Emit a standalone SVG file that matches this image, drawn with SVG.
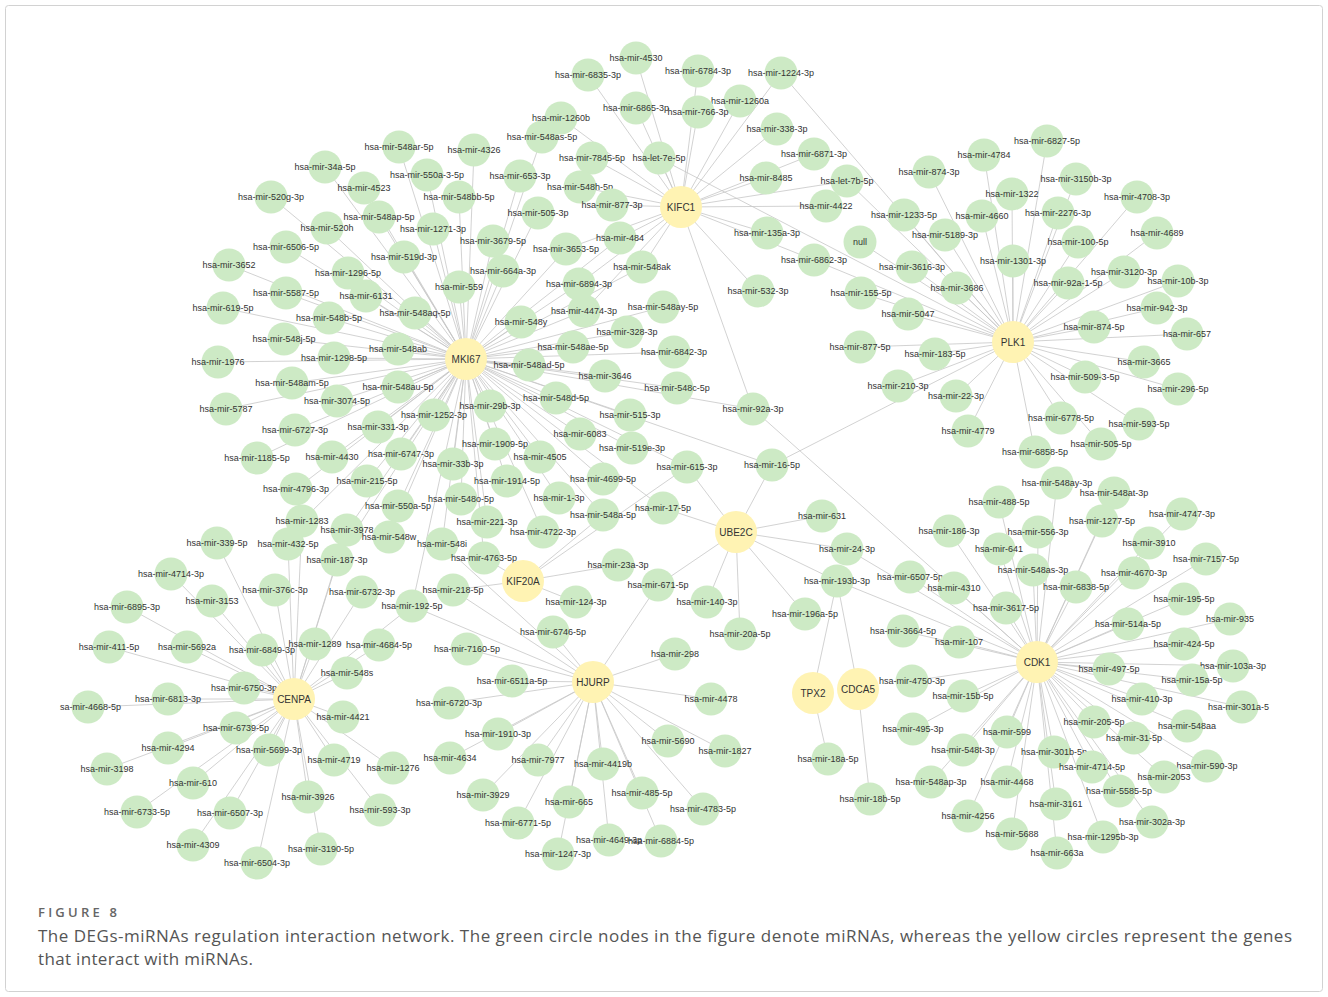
<svg xmlns="http://www.w3.org/2000/svg" width="1328" height="997" viewBox="0 0 1328 997">
<style>
#edges path{stroke:#c6c6c6;stroke-width:0.8;fill:none}
.m circle{fill:#cdeac5}
.g circle{fill:#fff3b3}
text{font-family:"Liberation Sans",Arial,sans-serif;font-size:9px;fill:#333;text-anchor:middle}
.g text{font-size:10px}
text.cap{font-family:"Open Sans","Liberation Sans",sans-serif;text-anchor:start;fill:#555;font-size:17px}
text.fig{font-size:13px;font-weight:600;fill:#666}
</style>
<rect x="5.5" y="5.5" width="1317" height="986" rx="3" fill="#fff" stroke="#d2d2d2"/>
<g id="edges">
<path d="M466 359L399 147M466 359L474 150M466 359L325 167M466 359L427 175M466 359L364 188M466 359L459 197M466 359L271 197M466 359L379 217M466 359L327 228M466 359L433 229M466 359L286 247M466 359L404 257M466 359L229 265M466 359L348 273M466 359L286 293M466 359L366 296M466 359L223 308M466 359L329 318M466 359L415 313M466 359L284 339M466 359L218 362M466 359L334 358M466 359L398 349M466 359L292 383M466 359L398 387M466 359L337 401M466 359L226 409M466 359L434 415M466 359L295 430M466 359L378 427M466 359L257 458M466 359L332 457M466 359L401 454M466 359L296 489M466 359L367 481M466 359L398 506M466 359L302 521M466 359L347 530M466 359L389 537M466 359L442 544M466 359L453 464M466 359L461 499M466 359L507 481M466 359L495 444M466 359L490 406M466 359L487 522M466 359L484 558M466 359L559 498M466 359L543 532M466 359L540 457M466 359L603 479M466 359L603 515M466 359L580 434M466 359L632 448M466 359L630 415M466 359L556 398M466 359L677 388M466 359L605 376M466 359L529 365M466 359L674 352M466 359L573 347M466 359L627 332M466 359L521 322M466 359L584 311M466 359L663 307M466 359L579 284M466 359L642 267M466 359L459 287M466 359L503 271M466 359L566 249M466 359L620 238M466 359L493 241M466 359L538 213M466 359L520 176M466 359L542 137M466 359L753 409M466 359L687 467M466 359L772 465M466 359L663 508M466 359L337 560M466 359L412 606"/>
<path d="M681 207L561 118M681 207L592 158M681 207L580 187M681 207L612 205M681 207L636 58M681 207L588 75M681 207L698 71M681 207L781 73M681 207L740 101M681 207L636 108M681 207L698 112M681 207L777 129M681 207L659 158M681 207L814 154M681 207L766 178M681 207L847 181M681 207L826 206M681 207L767 233M681 207L814 260M681 207L758 291M681 207L753 409M681 207L620 238M681 207L566 249M681 207L642 267M681 207L579 284M681 207L584 311"/>
<path d="M1013 342L1047 141M1013 342L984 155M1013 342L929 172M1013 342L1076 179M1013 342L1012 194M1013 342L1137 197M1013 342L904 215M1013 342L982 216M1013 342L1058 213M1013 342L945 235M1013 342L1157 233M1013 342L1078 242M1013 342L860 242M1013 342L1013 261M1013 342L912 267M1013 342L1124 272M1013 342L1068 283M1013 342L1178 281M1013 342L957 288M1013 342L861 293M1013 342L908 314M1013 342L1157 308M1013 342L1094 327M1013 342L1187 334M1013 342L860 347M1013 342L935 354M1013 342L1144 362M1013 342L1085 377M1013 342L898 386M1013 342L1178 389M1013 342L956 396M1013 342L1061 418M1013 342L1139 424M1013 342L968 431M1013 342L1101 444M1013 342L1035 452M1013 342L781 73M1013 342L659 158M1013 342L847 181M1013 342L814 260M1013 342L772 465"/>
<path d="M1037 662L1057 483M1037 662L1114 493M1037 662L999 502M1037 662L1182 514M1037 662L1102 521M1037 662L949 531M1037 662L1038 532M1037 662L1149 543M1037 662L999 549M1037 662L1206 559M1037 662L1033 570M1037 662L1134 573M1037 662L910 577M1037 662L1076 587M1037 662L954 588M1037 662L1184 599M1037 662L1006 608M1037 662L1230 619M1037 662L1128 624M1037 662L903 631M1037 662L1184 644M1037 662L959 642M1037 662L1233 666M1037 662L1109 669M1037 662L1192 680M1037 662L912 681M1037 662L963 696M1037 662L1142 699M1037 662L1242 707M1037 662L1187 726M1037 662L1094 722M1037 662L913 729M1037 662L1007 732M1037 662L1134 738M1037 662L963 750M1037 662L1054 752M1037 662L1092 767M1037 662L1207 766M1037 662L1164 777M1037 662L931 782M1037 662L1007 782M1037 662L1119 791M1037 662L1056 804M1037 662L968 816M1037 662L1152 822M1037 662L1012 834M1037 662L1103 837M1037 662L1057 853M1037 662L753 409M1037 662L847 549M1037 662L837 581"/>
<path d="M736 532L687 467M736 532L772 465M736 532L663 508M736 532L822 516M736 532L847 549M736 532L837 581M736 532L805 614M736 532L740 634M736 532L707 602M736 532L658 585"/>
<path d="M523 581L687 467M523 581L618 565M523 581L576 602M523 581L484 558M523 581L453 590M523 581L603 515"/>
<path d="M813 693L837 581M813 693L828 759M858 689L837 581M858 689L870 799"/>
<path d="M593 682L658 585M593 682L675 654M593 682L711 699M593 682L512 681M593 682L449 703M593 682L498 734M593 682L450 758M593 682L538 760M593 682L483 795M593 682L518 823M593 682L569 802M593 682L558 854M593 682L603 764M593 682L609 840M593 682L642 793M593 682L661 841M593 682L668 741M593 682L725 751M593 682L703 809M593 682L553 632M593 682L467 649M593 682L453 590M593 682L412 606M593 682L442 544"/>
<path d="M294 699L217 543M294 699L288 544M294 699L337 560M294 699L171 574M294 699L275 590M294 699L362 592M294 699L212 601M294 699L127 607M294 699L412 606M294 699L109 647M294 699L187 647M294 699L262 650M294 699L315 644M294 699L379 645M294 699L347 673M294 699L244 688M294 699L168 699M294 699L88 707M294 699L343 717M294 699L236 728M294 699L168 748M294 699L269 750M294 699L334 760M294 699L107 769M294 699L393 768M294 699L193 783M294 699L308 797M294 699L137 812M294 699L380 810M294 699L230 813M294 699L193 845M294 699L321 849M294 699L257 863M294 699L302 521M294 699L347 530"/>
</g>
<g id="mirnas">
<g id="mir-548ar-5p" class="m"><circle cx="399" cy="147" r="16.5"/><text x="399" y="150">hsa-mir-548ar-5p</text></g>
<g id="mir-4326" class="m"><circle cx="474" cy="150" r="16.5"/><text x="474" y="153">hsa-mir-4326</text></g>
<g id="mir-34a-5p" class="m"><circle cx="325" cy="167" r="16.5"/><text x="325" y="170">hsa-mir-34a-5p</text></g>
<g id="mir-550a-3-5p" class="m"><circle cx="427" cy="175" r="16.5"/><text x="427" y="178">hsa-mir-550a-3-5p</text></g>
<g id="mir-4523" class="m"><circle cx="364" cy="188" r="16.5"/><text x="364" y="191">hsa-mir-4523</text></g>
<g id="mir-548bb-5p" class="m"><circle cx="459" cy="197" r="16.5"/><text x="459" y="200">hsa-mir-548bb-5p</text></g>
<g id="mir-520g-3p" class="m"><circle cx="271" cy="197" r="16.5"/><text x="271" y="200">hsa-mir-520g-3p</text></g>
<g id="mir-548ap-5p" class="m"><circle cx="379" cy="217" r="16.5"/><text x="379" y="220">hsa-mir-548ap-5p</text></g>
<g id="mir-520h" class="m"><circle cx="327" cy="228" r="16.5"/><text x="327" y="231">hsa-mir-520h</text></g>
<g id="mir-1271-3p" class="m"><circle cx="433" cy="229" r="16.5"/><text x="433" y="232">hsa-mir-1271-3p</text></g>
<g id="mir-6506-5p" class="m"><circle cx="286" cy="247" r="16.5"/><text x="286" y="250">hsa-mir-6506-5p</text></g>
<g id="mir-519d-3p" class="m"><circle cx="404" cy="257" r="16.5"/><text x="404" y="260">hsa-mir-519d-3p</text></g>
<g id="mir-3652" class="m"><circle cx="229" cy="265" r="16.5"/><text x="229" y="268">hsa-mir-3652</text></g>
<g id="mir-1296-5p" class="m"><circle cx="348" cy="273" r="16.5"/><text x="348" y="276">hsa-mir-1296-5p</text></g>
<g id="mir-5587-5p" class="m"><circle cx="286" cy="293" r="16.5"/><text x="286" y="296">hsa-mir-5587-5p</text></g>
<g id="mir-6131" class="m"><circle cx="366" cy="296" r="16.5"/><text x="366" y="299">hsa-mir-6131</text></g>
<g id="mir-619-5p" class="m"><circle cx="223" cy="308" r="16.5"/><text x="223" y="311">hsa-mir-619-5p</text></g>
<g id="mir-548b-5p" class="m"><circle cx="329" cy="318" r="16.5"/><text x="329" y="321">hsa-mir-548b-5p</text></g>
<g id="mir-548aq-5p" class="m"><circle cx="415" cy="313" r="16.5"/><text x="415" y="316">hsa-mir-548aq-5p</text></g>
<g id="mir-548j-5p" class="m"><circle cx="284" cy="339" r="16.5"/><text x="284" y="342">hsa-mir-548j-5p</text></g>
<g id="mir-1976" class="m"><circle cx="218" cy="362" r="16.5"/><text x="218" y="365">hsa-mir-1976</text></g>
<g id="mir-1298-5p" class="m"><circle cx="334" cy="358" r="16.5"/><text x="334" y="361">hsa-mir-1298-5p</text></g>
<g id="mir-548ab" class="m"><circle cx="398" cy="349" r="16.5"/><text x="398" y="352">hsa-mir-548ab</text></g>
<g id="mir-548am-5p" class="m"><circle cx="292" cy="383" r="16.5"/><text x="292" y="386">hsa-mir-548am-5p</text></g>
<g id="mir-548au-5p" class="m"><circle cx="398" cy="387" r="16.5"/><text x="398" y="390">hsa-mir-548au-5p</text></g>
<g id="mir-3074-5p" class="m"><circle cx="337" cy="401" r="16.5"/><text x="337" y="404">hsa-mir-3074-5p</text></g>
<g id="mir-5787" class="m"><circle cx="226" cy="409" r="16.5"/><text x="226" y="412">hsa-mir-5787</text></g>
<g id="mir-1252-3p" class="m"><circle cx="434" cy="415" r="16.5"/><text x="434" y="418">hsa-mir-1252-3p</text></g>
<g id="mir-6727-3p" class="m"><circle cx="295" cy="430" r="16.5"/><text x="295" y="433">hsa-mir-6727-3p</text></g>
<g id="mir-331-3p" class="m"><circle cx="378" cy="427" r="16.5"/><text x="378" y="430">hsa-mir-331-3p</text></g>
<g id="mir-1185-5p" class="m"><circle cx="257" cy="458" r="16.5"/><text x="257" y="461">hsa-mir-1185-5p</text></g>
<g id="mir-4430" class="m"><circle cx="332" cy="457" r="16.5"/><text x="332" y="460">hsa-mir-4430</text></g>
<g id="mir-6747-3p" class="m"><circle cx="401" cy="454" r="16.5"/><text x="401" y="457">hsa-mir-6747-3p</text></g>
<g id="mir-4796-3p" class="m"><circle cx="296" cy="489" r="16.5"/><text x="296" y="492">hsa-mir-4796-3p</text></g>
<g id="mir-215-5p" class="m"><circle cx="367" cy="481" r="16.5"/><text x="367" y="484">hsa-mir-215-5p</text></g>
<g id="mir-550a-5p" class="m"><circle cx="398" cy="506" r="16.5"/><text x="398" y="509">hsa-mir-550a-5p</text></g>
<g id="mir-1283" class="m"><circle cx="302" cy="521" r="16.5"/><text x="302" y="524">hsa-mir-1283</text></g>
<g id="mir-3978" class="m"><circle cx="347" cy="530" r="16.5"/><text x="347" y="533">hsa-mir-3978</text></g>
<g id="mir-548w" class="m"><circle cx="389" cy="537" r="16.5"/><text x="389" y="540">hsa-mir-548w</text></g>
<g id="mir-548i" class="m"><circle cx="442" cy="544" r="16.5"/><text x="442" y="547">hsa-mir-548i</text></g>
<g id="mir-33b-3p" class="m"><circle cx="453" cy="464" r="16.5"/><text x="453" y="467">hsa-mir-33b-3p</text></g>
<g id="mir-548o-5p" class="m"><circle cx="461" cy="499" r="16.5"/><text x="461" y="502">hsa-mir-548o-5p</text></g>
<g id="mir-1914-5p" class="m"><circle cx="507" cy="481" r="16.5"/><text x="507" y="484">hsa-mir-1914-5p</text></g>
<g id="mir-1909-5p" class="m"><circle cx="495" cy="444" r="16.5"/><text x="495" y="447">hsa-mir-1909-5p</text></g>
<g id="mir-29b-3p" class="m"><circle cx="490" cy="406" r="16.5"/><text x="490" y="409">hsa-mir-29b-3p</text></g>
<g id="mir-221-3p" class="m"><circle cx="487" cy="522" r="16.5"/><text x="487" y="525">hsa-mir-221-3p</text></g>
<g id="mir-4763-5p" class="m"><circle cx="484" cy="558" r="16.5"/><text x="484" y="561">hsa-mir-4763-5p</text></g>
<g id="mir-1-3p" class="m"><circle cx="559" cy="498" r="16.5"/><text x="559" y="501">hsa-mir-1-3p</text></g>
<g id="mir-4722-3p" class="m"><circle cx="543" cy="532" r="16.5"/><text x="543" y="535">hsa-mir-4722-3p</text></g>
<g id="mir-4505" class="m"><circle cx="540" cy="457" r="16.5"/><text x="540" y="460">hsa-mir-4505</text></g>
<g id="mir-4699-5p" class="m"><circle cx="603" cy="479" r="16.5"/><text x="603" y="482">hsa-mir-4699-5p</text></g>
<g id="mir-548a-5p" class="m"><circle cx="603" cy="515" r="16.5"/><text x="603" y="518">hsa-mir-548a-5p</text></g>
<g id="mir-6083" class="m"><circle cx="580" cy="434" r="16.5"/><text x="580" y="437">hsa-mir-6083</text></g>
<g id="mir-519e-3p" class="m"><circle cx="632" cy="448" r="16.5"/><text x="632" y="451">hsa-mir-519e-3p</text></g>
<g id="mir-515-3p" class="m"><circle cx="630" cy="415" r="16.5"/><text x="630" y="418">hsa-mir-515-3p</text></g>
<g id="mir-548d-5p" class="m"><circle cx="556" cy="398" r="16.5"/><text x="556" y="401">hsa-mir-548d-5p</text></g>
<g id="mir-548c-5p" class="m"><circle cx="677" cy="388" r="16.5"/><text x="677" y="391">hsa-mir-548c-5p</text></g>
<g id="mir-3646" class="m"><circle cx="605" cy="376" r="16.5"/><text x="605" y="379">hsa-mir-3646</text></g>
<g id="mir-548ad-5p" class="m"><circle cx="529" cy="365" r="16.5"/><text x="529" y="368">hsa-mir-548ad-5p</text></g>
<g id="mir-6842-3p" class="m"><circle cx="674" cy="352" r="16.5"/><text x="674" y="355">hsa-mir-6842-3p</text></g>
<g id="mir-548ae-5p" class="m"><circle cx="573" cy="347" r="16.5"/><text x="573" y="350">hsa-mir-548ae-5p</text></g>
<g id="mir-328-3p" class="m"><circle cx="627" cy="332" r="16.5"/><text x="627" y="335">hsa-mir-328-3p</text></g>
<g id="mir-548y" class="m"><circle cx="521" cy="322" r="16.5"/><text x="521" y="325">hsa-mir-548y</text></g>
<g id="mir-4474-3p" class="m"><circle cx="584" cy="311" r="16.5"/><text x="584" y="314">hsa-mir-4474-3p</text></g>
<g id="mir-548ay-5p" class="m"><circle cx="663" cy="307" r="16.5"/><text x="663" y="310">hsa-mir-548ay-5p</text></g>
<g id="mir-6894-3p" class="m"><circle cx="579" cy="284" r="16.5"/><text x="579" y="287">hsa-mir-6894-3p</text></g>
<g id="mir-548ak" class="m"><circle cx="642" cy="267" r="16.5"/><text x="642" y="270">hsa-mir-548ak</text></g>
<g id="mir-559" class="m"><circle cx="459" cy="287" r="16.5"/><text x="459" y="290">hsa-mir-559</text></g>
<g id="mir-664a-3p" class="m"><circle cx="503" cy="271" r="16.5"/><text x="503" y="274">hsa-mir-664a-3p</text></g>
<g id="mir-3653-5p" class="m"><circle cx="566" cy="249" r="16.5"/><text x="566" y="252">hsa-mir-3653-5p</text></g>
<g id="mir-484" class="m"><circle cx="620" cy="238" r="16.5"/><text x="620" y="241">hsa-mir-484</text></g>
<g id="mir-3679-5p" class="m"><circle cx="493" cy="241" r="16.5"/><text x="493" y="244">hsa-mir-3679-5p</text></g>
<g id="mir-505-3p" class="m"><circle cx="538" cy="213" r="16.5"/><text x="538" y="216">hsa-mir-505-3p</text></g>
<g id="mir-653-3p" class="m"><circle cx="520" cy="176" r="16.5"/><text x="520" y="179">hsa-mir-653-3p</text></g>
<g id="mir-548as-5p" class="m"><circle cx="542" cy="137" r="16.5"/><text x="542" y="140">hsa-mir-548as-5p</text></g>
<g id="mir-1260b" class="m"><circle cx="561" cy="118" r="16.5"/><text x="561" y="121">hsa-mir-1260b</text></g>
<g id="mir-7845-5p" class="m"><circle cx="592" cy="158" r="16.5"/><text x="592" y="161">hsa-mir-7845-5p</text></g>
<g id="mir-548h-5p" class="m"><circle cx="580" cy="187" r="16.5"/><text x="580" y="190">hsa-mir-548h-5p</text></g>
<g id="mir-877-3p" class="m"><circle cx="612" cy="205" r="16.5"/><text x="612" y="208">hsa-mir-877-3p</text></g>
<g id="mir-4530" class="m"><circle cx="636" cy="58" r="16.5"/><text x="636" y="61">hsa-mir-4530</text></g>
<g id="mir-6835-3p" class="m"><circle cx="588" cy="75" r="16.5"/><text x="588" y="78">hsa-mir-6835-3p</text></g>
<g id="mir-6784-3p" class="m"><circle cx="698" cy="71" r="16.5"/><text x="698" y="74">hsa-mir-6784-3p</text></g>
<g id="mir-1224-3p" class="m"><circle cx="781" cy="73" r="16.5"/><text x="781" y="76">hsa-mir-1224-3p</text></g>
<g id="mir-1260a" class="m"><circle cx="740" cy="101" r="16.5"/><text x="740" y="104">hsa-mir-1260a</text></g>
<g id="mir-6865-3p" class="m"><circle cx="636" cy="108" r="16.5"/><text x="636" y="111">hsa-mir-6865-3p</text></g>
<g id="mir-766-3p" class="m"><circle cx="698" cy="112" r="16.5"/><text x="698" y="115">hsa-mir-766-3p</text></g>
<g id="mir-338-3p" class="m"><circle cx="777" cy="129" r="16.5"/><text x="777" y="132">hsa-mir-338-3p</text></g>
<g id="let-7e-5p" class="m"><circle cx="659" cy="158" r="16.5"/><text x="659" y="161">hsa-let-7e-5p</text></g>
<g id="mir-6871-3p" class="m"><circle cx="814" cy="154" r="16.5"/><text x="814" y="157">hsa-mir-6871-3p</text></g>
<g id="mir-8485" class="m"><circle cx="766" cy="178" r="16.5"/><text x="766" y="181">hsa-mir-8485</text></g>
<g id="let-7b-5p" class="m"><circle cx="847" cy="181" r="16.5"/><text x="847" y="184">hsa-let-7b-5p</text></g>
<g id="mir-4422" class="m"><circle cx="826" cy="206" r="16.5"/><text x="826" y="209">hsa-mir-4422</text></g>
<g id="mir-135a-3p" class="m"><circle cx="767" cy="233" r="16.5"/><text x="767" y="236">hsa-mir-135a-3p</text></g>
<g id="mir-6862-3p" class="m"><circle cx="814" cy="260" r="16.5"/><text x="814" y="263">hsa-mir-6862-3p</text></g>
<g id="mir-532-3p" class="m"><circle cx="758" cy="291" r="16.5"/><text x="758" y="294">hsa-mir-532-3p</text></g>
<g id="null" class="m"><circle cx="860" cy="242" r="16.5"/><text x="860" y="245">null</text></g>
<g id="mir-92a-3p" class="m"><circle cx="753" cy="409" r="16.5"/><text x="753" y="412">hsa-mir-92a-3p</text></g>
<g id="mir-615-3p" class="m"><circle cx="687" cy="467" r="16.5"/><text x="687" y="470">hsa-mir-615-3p</text></g>
<g id="mir-16-5p" class="m"><circle cx="772" cy="465" r="16.5"/><text x="772" y="468">hsa-mir-16-5p</text></g>
<g id="mir-17-5p" class="m"><circle cx="663" cy="508" r="16.5"/><text x="663" y="511">hsa-mir-17-5p</text></g>
<g id="mir-6827-5p" class="m"><circle cx="1047" cy="141" r="16.5"/><text x="1047" y="144">hsa-mir-6827-5p</text></g>
<g id="mir-4784" class="m"><circle cx="984" cy="155" r="16.5"/><text x="984" y="158">hsa-mir-4784</text></g>
<g id="mir-874-3p" class="m"><circle cx="929" cy="172" r="16.5"/><text x="929" y="175">hsa-mir-874-3p</text></g>
<g id="mir-3150b-3p" class="m"><circle cx="1076" cy="179" r="16.5"/><text x="1076" y="182">hsa-mir-3150b-3p</text></g>
<g id="mir-1322" class="m"><circle cx="1012" cy="194" r="16.5"/><text x="1012" y="197">hsa-mir-1322</text></g>
<g id="mir-4708-3p" class="m"><circle cx="1137" cy="197" r="16.5"/><text x="1137" y="200">hsa-mir-4708-3p</text></g>
<g id="mir-1233-5p" class="m"><circle cx="904" cy="215" r="16.5"/><text x="904" y="218">hsa-mir-1233-5p</text></g>
<g id="mir-4660" class="m"><circle cx="982" cy="216" r="16.5"/><text x="982" y="219">hsa-mir-4660</text></g>
<g id="mir-2276-3p" class="m"><circle cx="1058" cy="213" r="16.5"/><text x="1058" y="216">hsa-mir-2276-3p</text></g>
<g id="mir-5189-3p" class="m"><circle cx="945" cy="235" r="16.5"/><text x="945" y="238">hsa-mir-5189-3p</text></g>
<g id="mir-4689" class="m"><circle cx="1157" cy="233" r="16.5"/><text x="1157" y="236">hsa-mir-4689</text></g>
<g id="mir-100-5p" class="m"><circle cx="1078" cy="242" r="16.5"/><text x="1078" y="245">hsa-mir-100-5p</text></g>
<g id="mir-1301-3p" class="m"><circle cx="1013" cy="261" r="16.5"/><text x="1013" y="264">hsa-mir-1301-3p</text></g>
<g id="mir-3616-3p" class="m"><circle cx="912" cy="267" r="16.5"/><text x="912" y="270">hsa-mir-3616-3p</text></g>
<g id="mir-3120-3p" class="m"><circle cx="1124" cy="272" r="16.5"/><text x="1124" y="275">hsa-mir-3120-3p</text></g>
<g id="mir-92a-1-5p" class="m"><circle cx="1068" cy="283" r="16.5"/><text x="1068" y="286">hsa-mir-92a-1-5p</text></g>
<g id="mir-10b-3p" class="m"><circle cx="1178" cy="281" r="16.5"/><text x="1178" y="284">hsa-mir-10b-3p</text></g>
<g id="mir-3686" class="m"><circle cx="957" cy="288" r="16.5"/><text x="957" y="291">hsa-mir-3686</text></g>
<g id="mir-155-5p" class="m"><circle cx="861" cy="293" r="16.5"/><text x="861" y="296">hsa-mir-155-5p</text></g>
<g id="mir-5047" class="m"><circle cx="908" cy="314" r="16.5"/><text x="908" y="317">hsa-mir-5047</text></g>
<g id="mir-942-3p" class="m"><circle cx="1157" cy="308" r="16.5"/><text x="1157" y="311">hsa-mir-942-3p</text></g>
<g id="mir-874-5p" class="m"><circle cx="1094" cy="327" r="16.5"/><text x="1094" y="330">hsa-mir-874-5p</text></g>
<g id="mir-657" class="m"><circle cx="1187" cy="334" r="16.5"/><text x="1187" y="337">hsa-mir-657</text></g>
<g id="mir-877-5p" class="m"><circle cx="860" cy="347" r="16.5"/><text x="860" y="350">hsa-mir-877-5p</text></g>
<g id="mir-183-5p" class="m"><circle cx="935" cy="354" r="16.5"/><text x="935" y="357">hsa-mir-183-5p</text></g>
<g id="mir-3665" class="m"><circle cx="1144" cy="362" r="16.5"/><text x="1144" y="365">hsa-mir-3665</text></g>
<g id="mir-509-3-5p" class="m"><circle cx="1085" cy="377" r="16.5"/><text x="1085" y="380">hsa-mir-509-3-5p</text></g>
<g id="mir-210-3p" class="m"><circle cx="898" cy="386" r="16.5"/><text x="898" y="389">hsa-mir-210-3p</text></g>
<g id="mir-296-5p" class="m"><circle cx="1178" cy="389" r="16.5"/><text x="1178" y="392">hsa-mir-296-5p</text></g>
<g id="mir-22-3p" class="m"><circle cx="956" cy="396" r="16.5"/><text x="956" y="399">hsa-mir-22-3p</text></g>
<g id="mir-6778-5p" class="m"><circle cx="1061" cy="418" r="16.5"/><text x="1061" y="421">hsa-mir-6778-5p</text></g>
<g id="mir-593-5p" class="m"><circle cx="1139" cy="424" r="16.5"/><text x="1139" y="427">hsa-mir-593-5p</text></g>
<g id="mir-4779" class="m"><circle cx="968" cy="431" r="16.5"/><text x="968" y="434">hsa-mir-4779</text></g>
<g id="mir-505-5p" class="m"><circle cx="1101" cy="444" r="16.5"/><text x="1101" y="447">hsa-mir-505-5p</text></g>
<g id="mir-6858-5p" class="m"><circle cx="1035" cy="452" r="16.5"/><text x="1035" y="455">hsa-mir-6858-5p</text></g>
<g id="mir-548ay-3p" class="m"><circle cx="1057" cy="483" r="16.5"/><text x="1057" y="486">hsa-mir-548ay-3p</text></g>
<g id="mir-548at-3p" class="m"><circle cx="1114" cy="493" r="16.5"/><text x="1114" y="496">hsa-mir-548at-3p</text></g>
<g id="mir-488-5p" class="m"><circle cx="999" cy="502" r="16.5"/><text x="999" y="505">hsa-mir-488-5p</text></g>
<g id="mir-4747-3p" class="m"><circle cx="1182" cy="514" r="16.5"/><text x="1182" y="517">hsa-mir-4747-3p</text></g>
<g id="mir-1277-5p" class="m"><circle cx="1102" cy="521" r="16.5"/><text x="1102" y="524">hsa-mir-1277-5p</text></g>
<g id="mir-186-3p" class="m"><circle cx="949" cy="531" r="16.5"/><text x="949" y="534">hsa-mir-186-3p</text></g>
<g id="mir-556-3p" class="m"><circle cx="1038" cy="532" r="16.5"/><text x="1038" y="535">hsa-mir-556-3p</text></g>
<g id="mir-3910" class="m"><circle cx="1149" cy="543" r="16.5"/><text x="1149" y="546">hsa-mir-3910</text></g>
<g id="mir-641" class="m"><circle cx="999" cy="549" r="16.5"/><text x="999" y="552">hsa-mir-641</text></g>
<g id="mir-7157-5p" class="m"><circle cx="1206" cy="559" r="16.5"/><text x="1206" y="562">hsa-mir-7157-5p</text></g>
<g id="mir-548as-3p" class="m"><circle cx="1033" cy="570" r="16.5"/><text x="1033" y="573">hsa-mir-548as-3p</text></g>
<g id="mir-4670-3p" class="m"><circle cx="1134" cy="573" r="16.5"/><text x="1134" y="576">hsa-mir-4670-3p</text></g>
<g id="mir-6507-5p" class="m"><circle cx="910" cy="577" r="16.5"/><text x="910" y="580">hsa-mir-6507-5p</text></g>
<g id="mir-6838-5p" class="m"><circle cx="1076" cy="587" r="16.5"/><text x="1076" y="590">hsa-mir-6838-5p</text></g>
<g id="mir-4310" class="m"><circle cx="954" cy="588" r="16.5"/><text x="954" y="591">hsa-mir-4310</text></g>
<g id="mir-195-5p" class="m"><circle cx="1184" cy="599" r="16.5"/><text x="1184" y="602">hsa-mir-195-5p</text></g>
<g id="mir-3617-5p" class="m"><circle cx="1006" cy="608" r="16.5"/><text x="1006" y="611">hsa-mir-3617-5p</text></g>
<g id="mir-935" class="m"><circle cx="1230" cy="619" r="16.5"/><text x="1230" y="622">hsa-mir-935</text></g>
<g id="mir-514a-5p" class="m"><circle cx="1128" cy="624" r="16.5"/><text x="1128" y="627">hsa-mir-514a-5p</text></g>
<g id="mir-3664-5p" class="m"><circle cx="903" cy="631" r="16.5"/><text x="903" y="634">hsa-mir-3664-5p</text></g>
<g id="mir-424-5p" class="m"><circle cx="1184" cy="644" r="16.5"/><text x="1184" y="647">hsa-mir-424-5p</text></g>
<g id="mir-107" class="m"><circle cx="959" cy="642" r="16.5"/><text x="959" y="645">hsa-mir-107</text></g>
<g id="mir-103a-3p" class="m"><circle cx="1233" cy="666" r="16.5"/><text x="1233" y="669">hsa-mir-103a-3p</text></g>
<g id="mir-497-5p" class="m"><circle cx="1109" cy="669" r="16.5"/><text x="1109" y="672">hsa-mir-497-5p</text></g>
<g id="mir-15a-5p" class="m"><circle cx="1192" cy="680" r="16.5"/><text x="1192" y="683">hsa-mir-15a-5p</text></g>
<g id="mir-4750-3p" class="m"><circle cx="912" cy="681" r="16.5"/><text x="912" y="684">hsa-mir-4750-3p</text></g>
<g id="mir-15b-5p" class="m"><circle cx="963" cy="696" r="16.5"/><text x="963" y="699">hsa-mir-15b-5p</text></g>
<g id="mir-410-3p" class="m"><circle cx="1142" cy="699" r="16.5"/><text x="1142" y="702">hsa-mir-410-3p</text></g>
<g id="mir-301a-5p" class="m"><circle cx="1242" cy="707" r="16.5"/><text x="1208" y="710" style="text-anchor:start">hsa-mir-301a-5</text></g>
<g id="mir-548aa" class="m"><circle cx="1187" cy="726" r="16.5"/><text x="1187" y="729">hsa-mir-548aa</text></g>
<g id="mir-205-5p" class="m"><circle cx="1094" cy="722" r="16.5"/><text x="1094" y="725">hsa-mir-205-5p</text></g>
<g id="mir-495-3p" class="m"><circle cx="913" cy="729" r="16.5"/><text x="913" y="732">hsa-mir-495-3p</text></g>
<g id="mir-599" class="m"><circle cx="1007" cy="732" r="16.5"/><text x="1007" y="735">hsa-mir-599</text></g>
<g id="mir-31-5p" class="m"><circle cx="1134" cy="738" r="16.5"/><text x="1134" y="741">hsa-mir-31-5p</text></g>
<g id="mir-548t-3p" class="m"><circle cx="963" cy="750" r="16.5"/><text x="963" y="753">hsa-mir-548t-3p</text></g>
<g id="mir-301b-5p" class="m"><circle cx="1054" cy="752" r="16.5"/><text x="1054" y="755">hsa-mir-301b-5p</text></g>
<g id="mir-4714-5p" class="m"><circle cx="1092" cy="767" r="16.5"/><text x="1092" y="770">hsa-mir-4714-5p</text></g>
<g id="mir-590-3p" class="m"><circle cx="1207" cy="766" r="16.5"/><text x="1207" y="769">hsa-mir-590-3p</text></g>
<g id="mir-2053" class="m"><circle cx="1164" cy="777" r="16.5"/><text x="1164" y="780">hsa-mir-2053</text></g>
<g id="mir-548ap-3p" class="m"><circle cx="931" cy="782" r="16.5"/><text x="931" y="785">hsa-mir-548ap-3p</text></g>
<g id="mir-4468" class="m"><circle cx="1007" cy="782" r="16.5"/><text x="1007" y="785">hsa-mir-4468</text></g>
<g id="mir-5585-5p" class="m"><circle cx="1119" cy="791" r="16.5"/><text x="1119" y="794">hsa-mir-5585-5p</text></g>
<g id="mir-3161" class="m"><circle cx="1056" cy="804" r="16.5"/><text x="1056" y="807">hsa-mir-3161</text></g>
<g id="mir-4256" class="m"><circle cx="968" cy="816" r="16.5"/><text x="968" y="819">hsa-mir-4256</text></g>
<g id="mir-302a-3p" class="m"><circle cx="1152" cy="822" r="16.5"/><text x="1152" y="825">hsa-mir-302a-3p</text></g>
<g id="mir-5688" class="m"><circle cx="1012" cy="834" r="16.5"/><text x="1012" y="837">hsa-mir-5688</text></g>
<g id="mir-1295b-3p" class="m"><circle cx="1103" cy="837" r="16.5"/><text x="1103" y="840">hsa-mir-1295b-3p</text></g>
<g id="mir-663a" class="m"><circle cx="1057" cy="853" r="16.5"/><text x="1057" y="856">hsa-mir-663a</text></g>
<g id="mir-631" class="m"><circle cx="822" cy="516" r="16.5"/><text x="822" y="519">hsa-mir-631</text></g>
<g id="mir-24-3p" class="m"><circle cx="847" cy="549" r="16.5"/><text x="847" y="552">hsa-mir-24-3p</text></g>
<g id="mir-193b-3p" class="m"><circle cx="837" cy="581" r="16.5"/><text x="837" y="584">hsa-mir-193b-3p</text></g>
<g id="mir-196a-5p" class="m"><circle cx="805" cy="614" r="16.5"/><text x="805" y="617">hsa-mir-196a-5p</text></g>
<g id="mir-20a-5p" class="m"><circle cx="740" cy="634" r="16.5"/><text x="740" y="637">hsa-mir-20a-5p</text></g>
<g id="mir-140-3p" class="m"><circle cx="707" cy="602" r="16.5"/><text x="707" y="605">hsa-mir-140-3p</text></g>
<g id="mir-671-5p" class="m"><circle cx="658" cy="585" r="16.5"/><text x="658" y="588">hsa-mir-671-5p</text></g>
<g id="mir-23a-3p" class="m"><circle cx="618" cy="565" r="16.5"/><text x="618" y="568">hsa-mir-23a-3p</text></g>
<g id="mir-124-3p" class="m"><circle cx="576" cy="602" r="16.5"/><text x="576" y="605">hsa-mir-124-3p</text></g>
<g id="mir-218-5p" class="m"><circle cx="453" cy="590" r="16.5"/><text x="453" y="593">hsa-mir-218-5p</text></g>
<g id="mir-6746-5p" class="m"><circle cx="553" cy="632" r="16.5"/><text x="553" y="635">hsa-mir-6746-5p</text></g>
<g id="mir-7160-5p" class="m"><circle cx="467" cy="649" r="16.5"/><text x="467" y="652">hsa-mir-7160-5p</text></g>
<g id="mir-298" class="m"><circle cx="675" cy="654" r="16.5"/><text x="675" y="657">hsa-mir-298</text></g>
<g id="mir-18a-5p" class="m"><circle cx="828" cy="759" r="16.5"/><text x="828" y="762">hsa-mir-18a-5p</text></g>
<g id="mir-18b-5p" class="m"><circle cx="870" cy="799" r="16.5"/><text x="870" y="802">hsa-mir-18b-5p</text></g>
<g id="mir-6511a-5p" class="m"><circle cx="512" cy="681" r="16.5"/><text x="512" y="684">hsa-mir-6511a-5p</text></g>
<g id="mir-4478" class="m"><circle cx="711" cy="699" r="16.5"/><text x="711" y="702">hsa-mir-4478</text></g>
<g id="mir-6720-3p" class="m"><circle cx="449" cy="703" r="16.5"/><text x="449" y="706">hsa-mir-6720-3p</text></g>
<g id="mir-1910-3p" class="m"><circle cx="498" cy="734" r="16.5"/><text x="498" y="737">hsa-mir-1910-3p</text></g>
<g id="mir-5690" class="m"><circle cx="668" cy="741" r="16.5"/><text x="668" y="744">hsa-mir-5690</text></g>
<g id="mir-1827" class="m"><circle cx="725" cy="751" r="16.5"/><text x="725" y="754">hsa-mir-1827</text></g>
<g id="mir-4634" class="m"><circle cx="450" cy="758" r="16.5"/><text x="450" y="761">hsa-mir-4634</text></g>
<g id="mir-7977" class="m"><circle cx="538" cy="760" r="16.5"/><text x="538" y="763">hsa-mir-7977</text></g>
<g id="mir-4419b" class="m"><circle cx="603" cy="764" r="16.5"/><text x="603" y="767">hsa-mir-4419b</text></g>
<g id="mir-3929" class="m"><circle cx="483" cy="795" r="16.5"/><text x="483" y="798">hsa-mir-3929</text></g>
<g id="mir-485-5p" class="m"><circle cx="642" cy="793" r="16.5"/><text x="642" y="796">hsa-mir-485-5p</text></g>
<g id="mir-665" class="m"><circle cx="569" cy="802" r="16.5"/><text x="569" y="805">hsa-mir-665</text></g>
<g id="mir-4783-5p" class="m"><circle cx="703" cy="809" r="16.5"/><text x="703" y="812">hsa-mir-4783-5p</text></g>
<g id="mir-6771-5p" class="m"><circle cx="518" cy="823" r="16.5"/><text x="518" y="826">hsa-mir-6771-5p</text></g>
<g id="mir-4649-3p" class="m"><circle cx="609" cy="840" r="16.5"/><text x="609" y="843">hsa-mir-4649-3p</text></g>
<g id="mir-6884-5p" class="m"><circle cx="661" cy="841" r="16.5"/><text x="661" y="844">hsa-mir-6884-5p</text></g>
<g id="mir-1247-3p" class="m"><circle cx="558" cy="854" r="16.5"/><text x="558" y="857">hsa-mir-1247-3p</text></g>
<g id="mir-339-5p" class="m"><circle cx="217" cy="543" r="16.5"/><text x="217" y="546">hsa-mir-339-5p</text></g>
<g id="mir-432-5p" class="m"><circle cx="288" cy="544" r="16.5"/><text x="288" y="547">hsa-mir-432-5p</text></g>
<g id="mir-187-3p" class="m"><circle cx="337" cy="560" r="16.5"/><text x="337" y="563">hsa-mir-187-3p</text></g>
<g id="mir-4714-3p" class="m"><circle cx="171" cy="574" r="16.5"/><text x="171" y="577">hsa-mir-4714-3p</text></g>
<g id="mir-376c-3p" class="m"><circle cx="275" cy="590" r="16.5"/><text x="275" y="593">hsa-mir-376c-3p</text></g>
<g id="mir-6732-3p" class="m"><circle cx="362" cy="592" r="16.5"/><text x="362" y="595">hsa-mir-6732-3p</text></g>
<g id="mir-3153" class="m"><circle cx="212" cy="601" r="16.5"/><text x="212" y="604">hsa-mir-3153</text></g>
<g id="mir-6895-3p" class="m"><circle cx="127" cy="607" r="16.5"/><text x="127" y="610">hsa-mir-6895-3p</text></g>
<g id="mir-192-5p" class="m"><circle cx="412" cy="606" r="16.5"/><text x="412" y="609">hsa-mir-192-5p</text></g>
<g id="mir-411-5p" class="m"><circle cx="109" cy="647" r="16.5"/><text x="109" y="650">hsa-mir-411-5p</text></g>
<g id="mir-5692a" class="m"><circle cx="187" cy="647" r="16.5"/><text x="187" y="650">hsa-mir-5692a</text></g>
<g id="mir-6849-3p" class="m"><circle cx="262" cy="650" r="16.5"/><text x="262" y="653">hsa-mir-6849-3p</text></g>
<g id="mir-1289" class="m"><circle cx="315" cy="644" r="16.5"/><text x="315" y="647">hsa-mir-1289</text></g>
<g id="mir-4684-5p" class="m"><circle cx="379" cy="645" r="16.5"/><text x="379" y="648">hsa-mir-4684-5p</text></g>
<g id="mir-548s" class="m"><circle cx="347" cy="673" r="16.5"/><text x="347" y="676">hsa-mir-548s</text></g>
<g id="mir-6750-3p" class="m"><circle cx="244" cy="688" r="16.5"/><text x="244" y="691">hsa-mir-6750-3p</text></g>
<g id="mir-6813-3p" class="m"><circle cx="168" cy="699" r="16.5"/><text x="168" y="702">hsa-mir-6813-3p</text></g>
<g id="mir-4668-5p" class="m"><circle cx="88" cy="707" r="16.5"/><text x="60" y="710" style="text-anchor:start">sa-mir-4668-5p</text></g>
<g id="mir-4421" class="m"><circle cx="343" cy="717" r="16.5"/><text x="343" y="720">hsa-mir-4421</text></g>
<g id="mir-6739-5p" class="m"><circle cx="236" cy="728" r="16.5"/><text x="236" y="731">hsa-mir-6739-5p</text></g>
<g id="mir-4294" class="m"><circle cx="168" cy="748" r="16.5"/><text x="168" y="751">hsa-mir-4294</text></g>
<g id="mir-5699-3p" class="m"><circle cx="269" cy="750" r="16.5"/><text x="269" y="753">hsa-mir-5699-3p</text></g>
<g id="mir-4719" class="m"><circle cx="334" cy="760" r="16.5"/><text x="334" y="763">hsa-mir-4719</text></g>
<g id="mir-3198" class="m"><circle cx="107" cy="769" r="16.5"/><text x="107" y="772">hsa-mir-3198</text></g>
<g id="mir-1276" class="m"><circle cx="393" cy="768" r="16.5"/><text x="393" y="771">hsa-mir-1276</text></g>
<g id="mir-610" class="m"><circle cx="193" cy="783" r="16.5"/><text x="193" y="786">hsa-mir-610</text></g>
<g id="mir-3926" class="m"><circle cx="308" cy="797" r="16.5"/><text x="308" y="800">hsa-mir-3926</text></g>
<g id="mir-6733-5p" class="m"><circle cx="137" cy="812" r="16.5"/><text x="137" y="815">hsa-mir-6733-5p</text></g>
<g id="mir-593-3p" class="m"><circle cx="380" cy="810" r="16.5"/><text x="380" y="813">hsa-mir-593-3p</text></g>
<g id="mir-6507-3p" class="m"><circle cx="230" cy="813" r="16.5"/><text x="230" y="816">hsa-mir-6507-3p</text></g>
<g id="mir-4309" class="m"><circle cx="193" cy="845" r="16.5"/><text x="193" y="848">hsa-mir-4309</text></g>
<g id="mir-3190-5p" class="m"><circle cx="321" cy="849" r="16.5"/><text x="321" y="852">hsa-mir-3190-5p</text></g>
<g id="mir-6504-3p" class="m"><circle cx="257" cy="863" r="16.5"/><text x="257" y="866">hsa-mir-6504-3p</text></g>
</g>
<g id="genes">
<g id="KIFC1" class="g"><circle cx="681" cy="207" r="21"/><text x="681" y="211">KIFC1</text></g>
<g id="MKI67" class="g"><circle cx="466" cy="359" r="21"/><text x="466" y="363">MKI67</text></g>
<g id="PLK1" class="g"><circle cx="1013" cy="342" r="21"/><text x="1013" y="346">PLK1</text></g>
<g id="UBE2C" class="g"><circle cx="736" cy="532" r="21"/><text x="736" y="536">UBE2C</text></g>
<g id="KIF20A" class="g"><circle cx="523" cy="581" r="21"/><text x="523" y="585">KIF20A</text></g>
<g id="CENPA" class="g"><circle cx="294" cy="699" r="21"/><text x="294" y="703">CENPA</text></g>
<g id="HJURP" class="g"><circle cx="593" cy="682" r="21"/><text x="593" y="686">HJURP</text></g>
<g id="TPX2" class="g"><circle cx="813" cy="693" r="21"/><text x="813" y="697">TPX2</text></g>
<g id="CDCA5" class="g"><circle cx="858" cy="689" r="21"/><text x="858" y="693">CDCA5</text></g>
<g id="CDK1" class="g"><circle cx="1037" cy="662" r="21"/><text x="1037" y="666">CDK1</text></g>
</g>
<g id="caption">
<text class="cap fig" x="38" y="917" textLength="79" lengthAdjust="spacing">FIGURE 8</text>
<text class="cap" x="38" y="942" textLength="1254" lengthAdjust="spacing">The DEGs-miRNAs regulation interaction network. The green circle nodes in the figure denote miRNAs, whereas the yellow circles represent the genes</text>
<text class="cap" x="38" y="965" textLength="215" lengthAdjust="spacing">that interact with miRNAs.</text>
</g>
</svg>
